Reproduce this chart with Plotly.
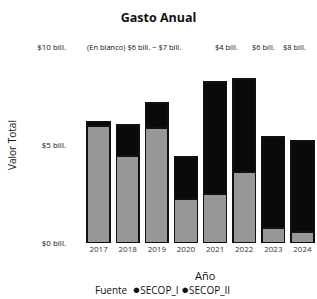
import plotly.graph_objects as go

years = ["2017", "2018", "2019", "2020", "2021", "2022", "2023", "2024"]
secop_i = [5.97, 4.44, 5.87, 2.24, 2.50, 3.62, 0.77, 0.56]
secop_ii = [0.22, 1.58, 1.27, 2.15, 5.71, 4.75, 4.64, 4.64]
series_names = ["SECOP_I", "SECOP_II"]
y_ticks = [0, 5, 10]
y_tick_text = ["$0 bill.", "$5 bill.", "$10 bill."]
top_labels = ["(En blanco) $6 bill. ~ $7 bill.", "$4 bill.", "$6 bill.", "$8 bill."]

col_i = "#979797"
col_ii = "#0a0a0a"
font = "Open Sans"

fig = go.Figure()
fig.add_trace(go.Bar(x=years, y=secop_i, name=series_names[0],
                     marker=dict(color=col_i, line=dict(color="#111", width=1.5))))
fig.add_trace(go.Bar(x=years, y=secop_ii, name=series_names[1],
                     marker=dict(color=col_ii, line=dict(color="#111", width=1.5))))

fig.update_layout(
    width=317, height=299,
    margin=dict(l=84, r=0, t=47, b=56),
    barmode="stack", bargap=0.22,
    plot_bgcolor="white", paper_bgcolor="white",
    font=dict(family=font, size=8, color="#1a1a1a"),
    title=dict(text="<b>Gasto Anual</b>", x=0.5, xanchor="center", y=1 - 18 / 299, yanchor="middle",
               xref="container", yref="container", font=dict(size=12.5, color="#111", family=font)),
    xaxis=dict(type="category", showgrid=False, showline=False, ticks="",
               tickfont=dict(size=8, color="#333")),
    yaxis=dict(range=[0, 10], tickvals=y_ticks, ticktext=y_tick_text, showgrid=False, zeroline=False,
               ticklabelstandoff=17, tickfont=dict(size=8, color="#111", family=font)),
    showlegend=False,
)

# y axis title
fig.add_annotation(text="Valor Total", textangle=-90, xref="paper", yref="paper",
                   x=(12 - 84) / 233, y=0.5, showarrow=False, xanchor="center", yanchor="middle",
                   font=dict(size=10, color="#111"))
# x axis title
fig.add_annotation(text="Año", xref="paper", yref="paper", x=(205 - 84) / 233, y=(243 - 275) / 196,
                   showarrow=False, xanchor="center", yanchor="middle", font=dict(size=11, color="#111"))
# legend (drawn as text line)
legend_text = "Fuente  " + " ".join(
    f"<span style='color:{c};font-size:13px'>●</span>{n}" for n, c in zip(series_names, ["#111", "#111"]))
fig.add_annotation(text=legend_text, xref="paper", yref="paper", x=(93 - 84) / 233,
                   y=(243 - 289) / 196, showarrow=False, xanchor="left", yanchor="middle",
                   font=dict(size=10, color="#111"))

top_pos = [85, 213, 250, 281]
for t, px in zip(top_labels, top_pos):
    fig.add_annotation(text=t, xref="paper", yref="paper", x=(px - 84) / 233, y=1.0,
                       showarrow=False, xanchor="left", yanchor="middle",
                       font=dict(size=7.5, color="#111"))

fig.write_html("out.html", config={"displayModeBar": False},
               post_script="document.body.style.margin='0';")
